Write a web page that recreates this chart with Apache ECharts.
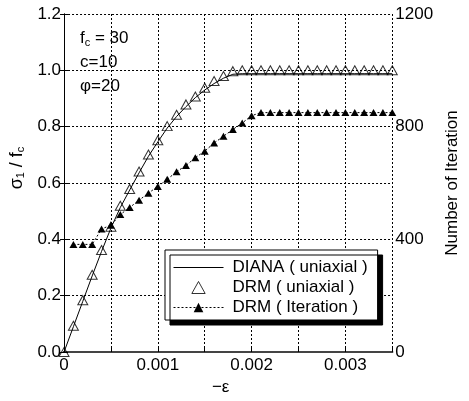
<!DOCTYPE html>
<html>
<head>
<meta charset="utf-8">
<script src="https://cdn.jsdelivr.net/npm/echarts@6/dist/echarts.min.js"></script>
<style>
  html, body { margin: 0; padding: 0; background: #fff; }
  #chart { width: 469px; height: 401px; }
</style>
</head>
<body>
<div id="chart"></div>
<script>
// strain (-eps) sample points
const strain = [0, 0.0001, 0.0002, 0.0003, 0.0004, 0.0005, 0.0006, 0.0007, 0.0008, 0.0009,
  0.0010, 0.0011, 0.0012, 0.0013, 0.0014, 0.0015, 0.0016, 0.0017, 0.0018, 0.0019,
  0.0020, 0.0021, 0.0022, 0.0023, 0.0024, 0.0025, 0.0026, 0.0027, 0.0028, 0.0029,
  0.0030, 0.0031, 0.0032, 0.0033, 0.0034, 0.0035];

// sigma1 / fc
const dianaUniaxial = [0, 0.09, 0.18, 0.27, 0.357, 0.44, 0.513, 0.575, 0.636, 0.695,
  0.746, 0.795, 0.836, 0.871, 0.903, 0.93, 0.953, 0.972, 0.986, 0.988,
  0.988, 0.988, 0.988, 0.988, 0.988, 0.988, 0.988, 0.988, 0.988, 0.988,
  0.988, 0.988, 0.988, 0.988, 0.988, 0.988];

const drmUniaxial = [0, 0.093, 0.184, 0.274, 0.362, 0.445, 0.519, 0.579, 0.641, 0.701,
  0.752, 0.802, 0.842, 0.879, 0.907, 0.938, 0.962, 0.98, 0.997, 1.0,
  1.0, 1.0, 1.0, 1.0, 1.0, 1.0, 1.0, 1.0, 1.0, 1.0,
  1.0, 1.0, 1.0, 1.0, 1.0, 1.0];

// number of iterations (right axis)
const drmIteration = [null, 382, 382, 382, 437, 450, 488, 513, 539, 564,
  588, 613, 640, 662, 690, 713, 742, 766, 790, 813,
  839, 850, 850, 850, 850, 850, 850, 850, 850, 850,
  850, 850, 850, 850, 850, 850];

const xTickLabels = ['0', '', '0.001', '', '0.002', '', '0.003', ''];
const yLeftLabels = ['0.0', '0.2', '0.4', '0.6', '0.8', '1.0', '1.2'];
const yRightLabels = ['0', '', '400', '', '800', '', '1200'];

const legendNames = ['DIANA ( uniaxial )', 'DRM ( uniaxial )', 'DRM ( Iteration )'];

const FONT = 'Liberation Sans, Arial, Helvetica, sans-serif';
const gridLine = { show: true, lineStyle: { color: '#000', type: [2, 2], width: 1 } };
const tickIn = { show: true, inside: true, length: 4, lineStyle: { color: '#000' } };

function pairs(ys) {
  const out = [];
  for (let i = 0; i < strain.length; i++) {
    out.push([strain[i], ys[i]]);
  }
  return out;
}

const chart = echarts.init(document.getElementById('chart'), null, { renderer: 'canvas' });

const option = {
  animation: false,
  backgroundColor: '#fff',
  textStyle: { fontFamily: FONT },
  grid: { left: 63, right: 63, top: 14, bottom: 45 },
  legend: {
    data: [
      { name: legendNames[0], icon: 'path://M0,0H50V1H0Z' },
      { name: legendNames[1], icon: 'path://M5,0L10,9L0,9Z', itemStyle: { borderWidth: 1 } },
      { name: legendNames[2] }
    ],
    orient: 'vertical',
    left: 165,
    top: 250,
    padding: [9, 10, 4, 8],
    itemWidth: 50,
    itemHeight: 12,
    itemGap: 3,
    backgroundColor: '#fff',
    borderColor: '#000',
    borderWidth: 1,
    borderRadius: 0,
    shadowColor: '#000',
    shadowBlur: 0,
    shadowOffsetX: 5,
    shadowOffsetY: 5,
    lineStyle: { width: 1 },
    textStyle: { fontFamily: FONT, fontSize: 17, color: '#000', padding: [0, 0, 0, 4] }
  },
  xAxis: [{
    type: 'value',
    min: 0,
    max: 0.0035,
    interval: 0.0005,
    name: '−ε',
    nameLocation: 'middle',
    nameGap: 27,
    nameTextStyle: { fontFamily: FONT, fontSize: 17, color: '#000', padding: [0, 15, 0, 0] },
    axisLine: { show: true, lineStyle: { color: '#444', width: 2, type: [3, 1] } },
    axisTick: tickIn,
    axisLabel: {
      margin: 5, fontFamily: FONT, fontSize: 17, color: '#000',
      formatter: (v, i) => xTickLabels[i] || ''
    },
    splitLine: gridLine
  }, {
    type: 'value',
    position: 'top',
    min: 0,
    max: 0.0035,
    interval: 0.0005,
    axisLine: { show: true, lineStyle: { color: '#444', width: 2, type: [3, 1] } },
    axisTick: { show: false },
    axisLabel: { show: false },
    splitLine: { show: false }
  }],
  yAxis: [{
    type: 'value',
    min: 0,
    max: 1.2,
    interval: 0.2,
    name: '{a|σ}{s|1}{a| / f}{s|c}',
    nameLocation: 'middle',
    nameGap: 24,
    nameTextStyle: {
      padding: [0, 0, 0, 30],
      rich: {
        a: { fontFamily: FONT, fontSize: 18, color: '#000' },
        s: { fontFamily: FONT, fontSize: 11, color: '#000', padding: [8, 0, 0, 0] }
      }
    },
    axisLine: { show: true, lineStyle: { color: '#000', width: 1 } },
    axisTick: tickIn,
    axisLabel: {
      margin: 3, fontFamily: FONT, fontSize: 17, color: '#000',
      formatter: (v, i) => yLeftLabels[i] || ''
    },
    splitLine: gridLine
  }, {
    type: 'value',
    position: 'right',
    min: 0,
    max: 1200,
    interval: 200,
    name: 'Number of Iteration',
    nameLocation: 'middle',
    nameGap: 36,
    nameTextStyle: { fontFamily: FONT, fontSize: 17, color: '#000' },
    axisLine: { show: true, lineStyle: { color: '#000', width: 1 } },
    axisTick: tickIn,
    axisLabel: {
      margin: 3, fontFamily: FONT, fontSize: 17, color: '#000',
      formatter: (v, i) => yRightLabels[i] || ''
    },
    splitLine: { show: false }
  }],
  graphic: [{
    type: 'text',
    left: 80,
    top: 30,
    style: {
      text: '{n|f}{s|c}{n| = 30}',
      rich: {
        n: { fontFamily: FONT, fontSize: 17, fill: '#000' },
        s: { fontFamily: FONT, fontSize: 11, fill: '#000', padding: [8, 0, 0, 0] }
      }
    }
  }, {
    type: 'text',
    left: 80,
    top: 54,
    style: { text: 'c=10', fontFamily: FONT, fontSize: 17, fill: '#000' }
  }, {
    type: 'text',
    left: 80,
    top: 78,
    style: { text: 'φ=20', fontFamily: FONT, fontSize: 17, fill: '#000' }
  }],
  series: [{
    name: legendNames[0],
    type: 'line',
    data: pairs(dianaUniaxial),
    symbol: 'none',
    clip: false,
    lineStyle: { color: '#000', width: 1 },
    itemStyle: { color: '#000' },
    z: 2
  }, {
    name: legendNames[1],
    type: 'scatter',
    data: pairs(drmUniaxial),
    symbol: 'triangle',
    symbolSize: [10, 9],
    clip: false,
    itemStyle: { color: 'rgba(255,255,255,0)', borderColor: '#000', borderWidth: 1 },
    z: 3
  }, {
    name: legendNames[2],
    type: 'line',
    yAxisIndex: 1,
    data: pairs(drmIteration),
    symbol: 'triangle',
    symbolSize: [8, 7],
    showSymbol: true,
    showAllSymbol: true,
    clip: false,
    lineStyle: { color: '#000', width: 1, type: [2, 2] },
    itemStyle: { color: '#000' },
    z: 3
  }]
};

chart.setOption(option);
</script>
</body>
</html>
